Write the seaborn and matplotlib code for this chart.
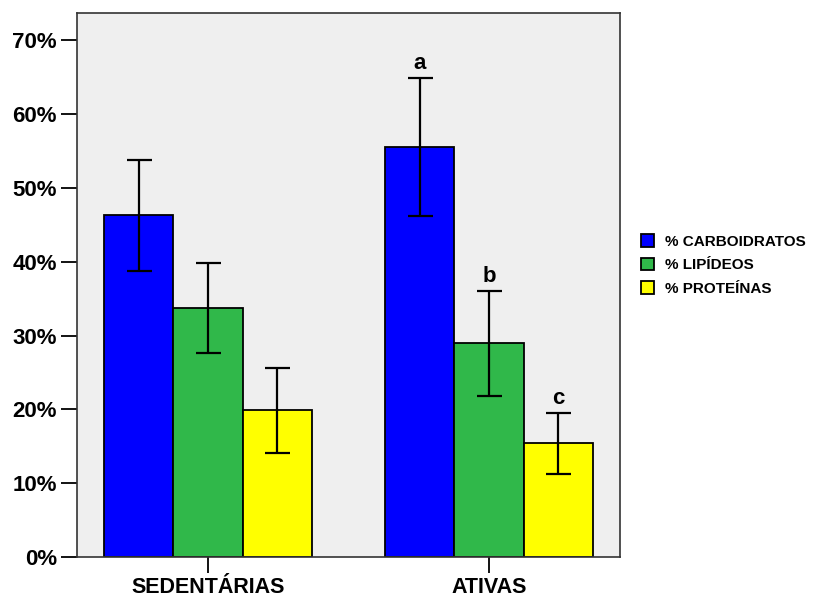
import numpy as np
import pandas as pd
import matplotlib
matplotlib.use("Agg")
import matplotlib.pyplot as plt
import seaborn as sns

# Dados (médias e limites das barras de erro, em %)
grupos = ["SEDENTÁRIAS", "ATIVAS"]
nutrientes = ["% CARBOIDRATOS", "% LIPÍDEOS", "% PROTEÍNAS"]
carboidratos = [46.3, 55.5]
lipideos = [33.8, 29.0]
proteinas = [19.9, 15.4]
erro_inf = {"% CARBOIDRATOS": [38.7, 46.2], "% LIPÍDEOS": [27.6, 21.8], "% PROTEÍNAS": [14.1, 11.2]}
erro_sup = {"% CARBOIDRATOS": [53.8, 64.9], "% LIPÍDEOS": [39.9, 36.0], "% PROTEÍNAS": [25.6, 19.5]}
letras = {"% CARBOIDRATOS": ["", "a"], "% LIPÍDEOS": ["", "b"], "% PROTEÍNAS": ["", "c"]}
cores = ["#0000FF", "#30B84A", "#FFFF00"]

df = pd.DataFrame({
    "grupo": grupos * 3,
    "nutriente": np.repeat(nutrientes, 2),
    "valor": carboidratos + lipideos + proteinas,
})

sns.set_style("white")
plt.rcParams["font.family"] = ["Liberation Sans", "DejaVu Sans"]
plt.rcParams["font.weight"] = "bold"
plt.rcParams["text.color"] = "black"
plt.rcParams["xtick.color"] = "black"
plt.rcParams["ytick.color"] = "black"

fig = plt.figure(figsize=(8.17, 5.97), dpi=100)
ax = fig.add_axes([0.0942, 0.067, 0.6646, 0.911])
ax.set_facecolor("#EFEFEF")

sns.barplot(data=df, x="grupo", y="valor", hue="nutriente", order=grupos,
            hue_order=nutrientes, palette=cores, saturation=1, width=0.74, errorbar=None,
            edgecolor="black", linewidth=1.3, ax=ax, legend=True)

# Barras de erro e letras de significância
barras = [p for p in ax.patches if p.get_height() > 0]
for i, nut in enumerate(nutrientes):
    for j in range(len(grupos)):
        p = barras[i * len(grupos) + j]
        xc = p.get_x() + p.get_width() / 2
        y = p.get_height()
        lo, hi = erro_inf[nut][j], erro_sup[nut][j]
        ax.errorbar(xc, y, yerr=[[y - lo], [hi - y]], fmt="none", ecolor="black",
                    elinewidth=1.6, capsize=9, capthick=1.6)
        if letras[nut][j]:
            ax.annotate(letras[nut][j], (xc, hi), xytext=(0, 3), textcoords="offset points",
                        ha="center", va="bottom", fontsize=16, fontweight="bold")

ax.set_xlim(-0.466, 1.466)
ax.set_ylim(0, 73.7)
ax.set_yticks(range(0, 71, 10))
ax.set_yticklabels([f"{v}%" for v in range(0, 71, 10)], fontsize=16, fontweight="bold")
ax.set_xticks([0, 1])
ax.set_xticklabels(grupos, fontsize=15.5, fontweight="bold")
ax.set_xlabel("")
ax.set_ylabel("")
ax.tick_params(axis="both", direction="out", length=11.5, width=1.3, pad=3,
               left=True, bottom=True)
for s in ax.spines.values():
    s.set_color("#333333")
    s.set_linewidth(1.2)

handles, labels = ax.get_legend_handles_labels()
ax.get_legend().remove()
fig.legend(handles, labels, loc="center left", bbox_to_anchor=(0.768, 0.556),
           frameon=False, prop={"size": 11, "weight": "bold"},
           handlelength=0.85, handleheight=0.85, handletextpad=0.7, labelspacing=0.6)

fig.savefig("out.png", dpi=100)
